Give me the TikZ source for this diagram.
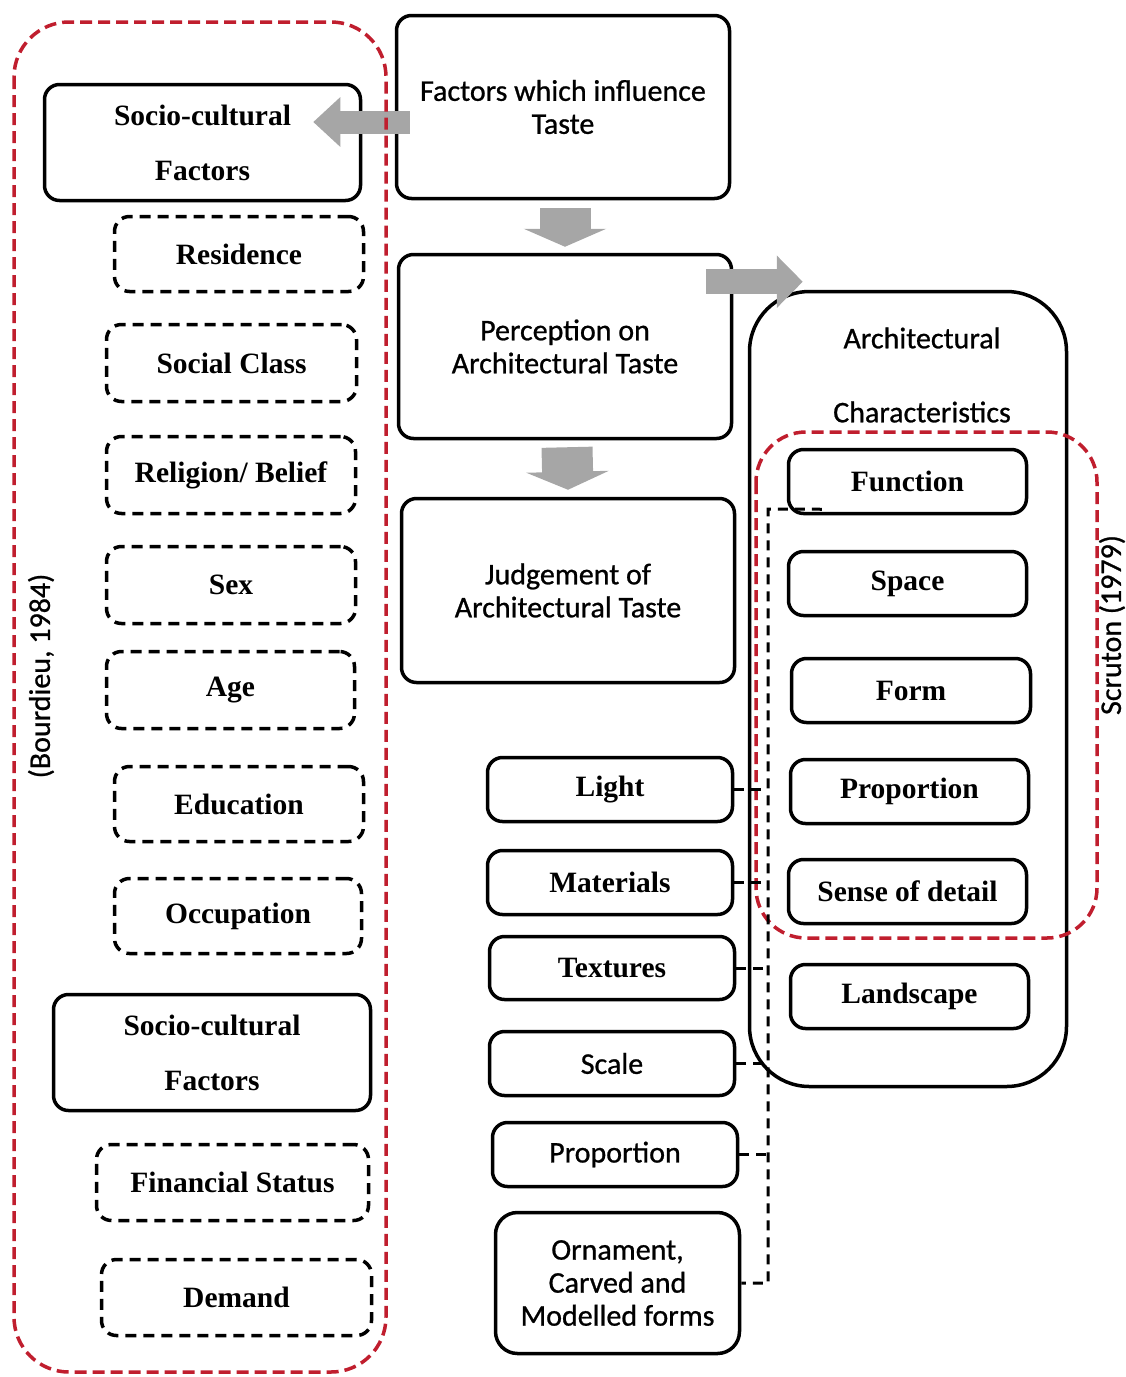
\documentclass[tikz,border=0pt]{standalone}
\usepackage{fontspec}
\setmainfont{Liberation Serif}
\newfontfamily\calib{Carlito}[FakeBold=0.8, UprightFeatures={FakeBold=0.8}]
\usepackage{xcolor}
\usetikzlibrary{arrows.meta, positioning}

\definecolor{redline}{RGB}{192,30,46}
\definecolor{arrgray}{RGB}{166,166,166}

\newcommand{\serifb}{\fontsize{29.5pt}{33pt}\selectfont\bfseries}
\newcommand{\serifbtwo}{\fontsize{29.5pt}{55pt}\selectfont\bfseries}
\newcommand{\calibtext}{\calib\fontsize{30pt}{33pt}\selectfont}

\begin{document}
\begin{tikzpicture}[x=1pt, y=-1pt,
        box/.style={rectangle, draw, line width=3.5pt, rounded corners=15pt, inner sep=0pt, align=center, fill=white, font=\serifb},
        dbox/.style={box, dash pattern=on 11pt off 7pt},
        sbox/.style={box, font=\calibtext},
        redbox/.style={draw=redline, line width=3.5pt, dash pattern=on 12pt off 6pt},
        link/.style={line width=3pt, dash pattern=on 10pt off 7pt},
        fat/.style={draw=arrgray, line width=#1}
    ]
    \useasboundingbox (0,0) rectangle (1126,1377);

    % Left column - socio-cultural factors
    \node[box, font=\serifbtwo, minimum width=316pt, minimum height=116pt] (socio1) at (202.5,142.5) {Socio-cultural\\Factors};
    \node[dbox, minimum width=249pt, minimum height=75pt] (resid) at (239,254) {Residence};
    \node[dbox, minimum width=250pt, minimum height=77pt] (social) at (231.5,363) {Social Class};
    \node[dbox, minimum width=249pt, minimum height=77pt] (relig) at (231,475) {Religion/ Belief};
    \node[dbox, minimum width=249pt, minimum height=77pt] (sex) at (231,585) {Sex};
    \node[dbox, minimum width=248pt, minimum height=77pt] (age) at (230.5,690) {Age};
    \node[dbox, minimum width=249pt, minimum height=75pt] (educ) at (239,804) {Education};
    \node[dbox, minimum width=247pt, minimum height=75pt] (occup) at (238,916) {Occupation};
    \node[box, font=\serifbtwo, minimum width=317pt, minimum height=116pt] (socio2) at (212,1052.5) {Socio-cultural\\Factors};
    \node[dbox, minimum width=272pt, minimum height=76pt] (finan) at (232.5,1182.5) {Financial Status};
    \node[dbox, minimum width=270pt, minimum height=76pt] (demand) at (236.5,1297.5) {Demand};
    \node[rotate=90, font=\calibtext] (bourdieu) at (41,676) {(Bourdieu, 1984)};

    % Middle column
    \node[sbox, minimum width=333pt, minimum height=183pt] (factors) at (563,107) {Factors which influence\\Taste};
    \node[sbox, minimum width=333pt, minimum height=184pt] (percep) at (565,346.5) {Perception on\\Architectural Taste};
    \node[sbox, minimum width=333pt, minimum height=184pt] (judge) at (568,590.5) {Judgement of\\Architectural Taste};
    \node[box, minimum width=245pt, minimum height=64pt] (light) at (610,789.5) {Light};
    \node[box, minimum width=245pt, minimum height=64pt] (mater) at (610,882.5) {Materials};
    \node[box, minimum width=245pt, minimum height=63pt] (textu) at (612,968) {Textures};
    \node[sbox, minimum width=245pt, minimum height=64pt] (scale) at (612,1063.5) {Scale};
    \node[sbox, minimum width=245pt, minimum height=64pt] (propo) at (615,1154.5) {Proportion};
    \node[sbox, minimum width=244pt, minimum height=141pt, rounded corners=22pt] (orna) at (617.5,1283) {Ornament,\\Carved and\\Modelled forms};

    % Right column - architectural characteristics
    \node[draw, line width=3.5pt, rounded corners=60pt, minimum width=317pt, minimum height=795pt] (arch) at (908,689) {};
    \node[font=\calib\fontsize{30pt}{74pt}\selectfont, align=center] (archlab) at (922,375) {Architectural\\Characteristics};
    \node[box, minimum width=238pt, minimum height=64pt] (func) at (907.5,481.5) {Function};
    \node[box, minimum width=238pt, minimum height=64pt] (space) at (907.5,583.5) {Space};
    \node[box, minimum width=239pt, minimum height=64pt] (form) at (911,690.5) {Form};
    \node[box, minimum width=238pt, minimum height=64pt] (propr) at (909.5,791.5) {Proportion};
    \node[box, minimum width=238pt, minimum height=64pt] (sense) at (907.5,891.5) {Sense of detail};
    \node[box, minimum width=238pt, minimum height=64pt] (land) at (909.5,996.5) {Landscape};
    \node[rotate=90, font=\calibtext] (scruton) at (1112,625) {Scruton (1979)};

    % Grey arrows
    \draw[fat=23pt, -{Triangle[length=27pt, width=48pt]}] ([xshift=15pt, yshift=-15pt]factors.west) -- ([xshift=-49pt, yshift=20.5pt]socio1.east);
    \draw[fat=51pt, -{Triangle[length=18pt, width=82pt]}] ([xshift=2pt, yshift=-8pt]factors.south) -- ([yshift=6pt]percep.north);
    \draw[fat=51pt, -{Triangle[length=18pt, width=82pt]}] ([xshift=2pt, yshift=-7pt]percep.south) -- ([yshift=7pt]judge.north);
    \draw[fat=25pt, -{Triangle[length=26pt, width=51pt]}] ([xshift=-27pt, yshift=-29pt]percep.north east) -- ([xshift=55pt, yshift=8pt]arch.north west);

    % Red dashed groups
    \draw[redbox, rounded corners=55pt] (14,22) rectangle (386,1372);
    \draw[redbox, rounded corners=50pt] (756,432) rectangle (1097,938);

    % Dashed links
    \coordinate (bustop) at (768,509);
    \draw[link] ([xshift=35pt, yshift=6pt]func.south west) -- (bustop) |- (orna.east);
    \foreach \b in {light, mater, textu, scale, propo}
        \draw[link] (\b.east) -- (\b.east -| bustop);

\end{tikzpicture}
\end{document}
